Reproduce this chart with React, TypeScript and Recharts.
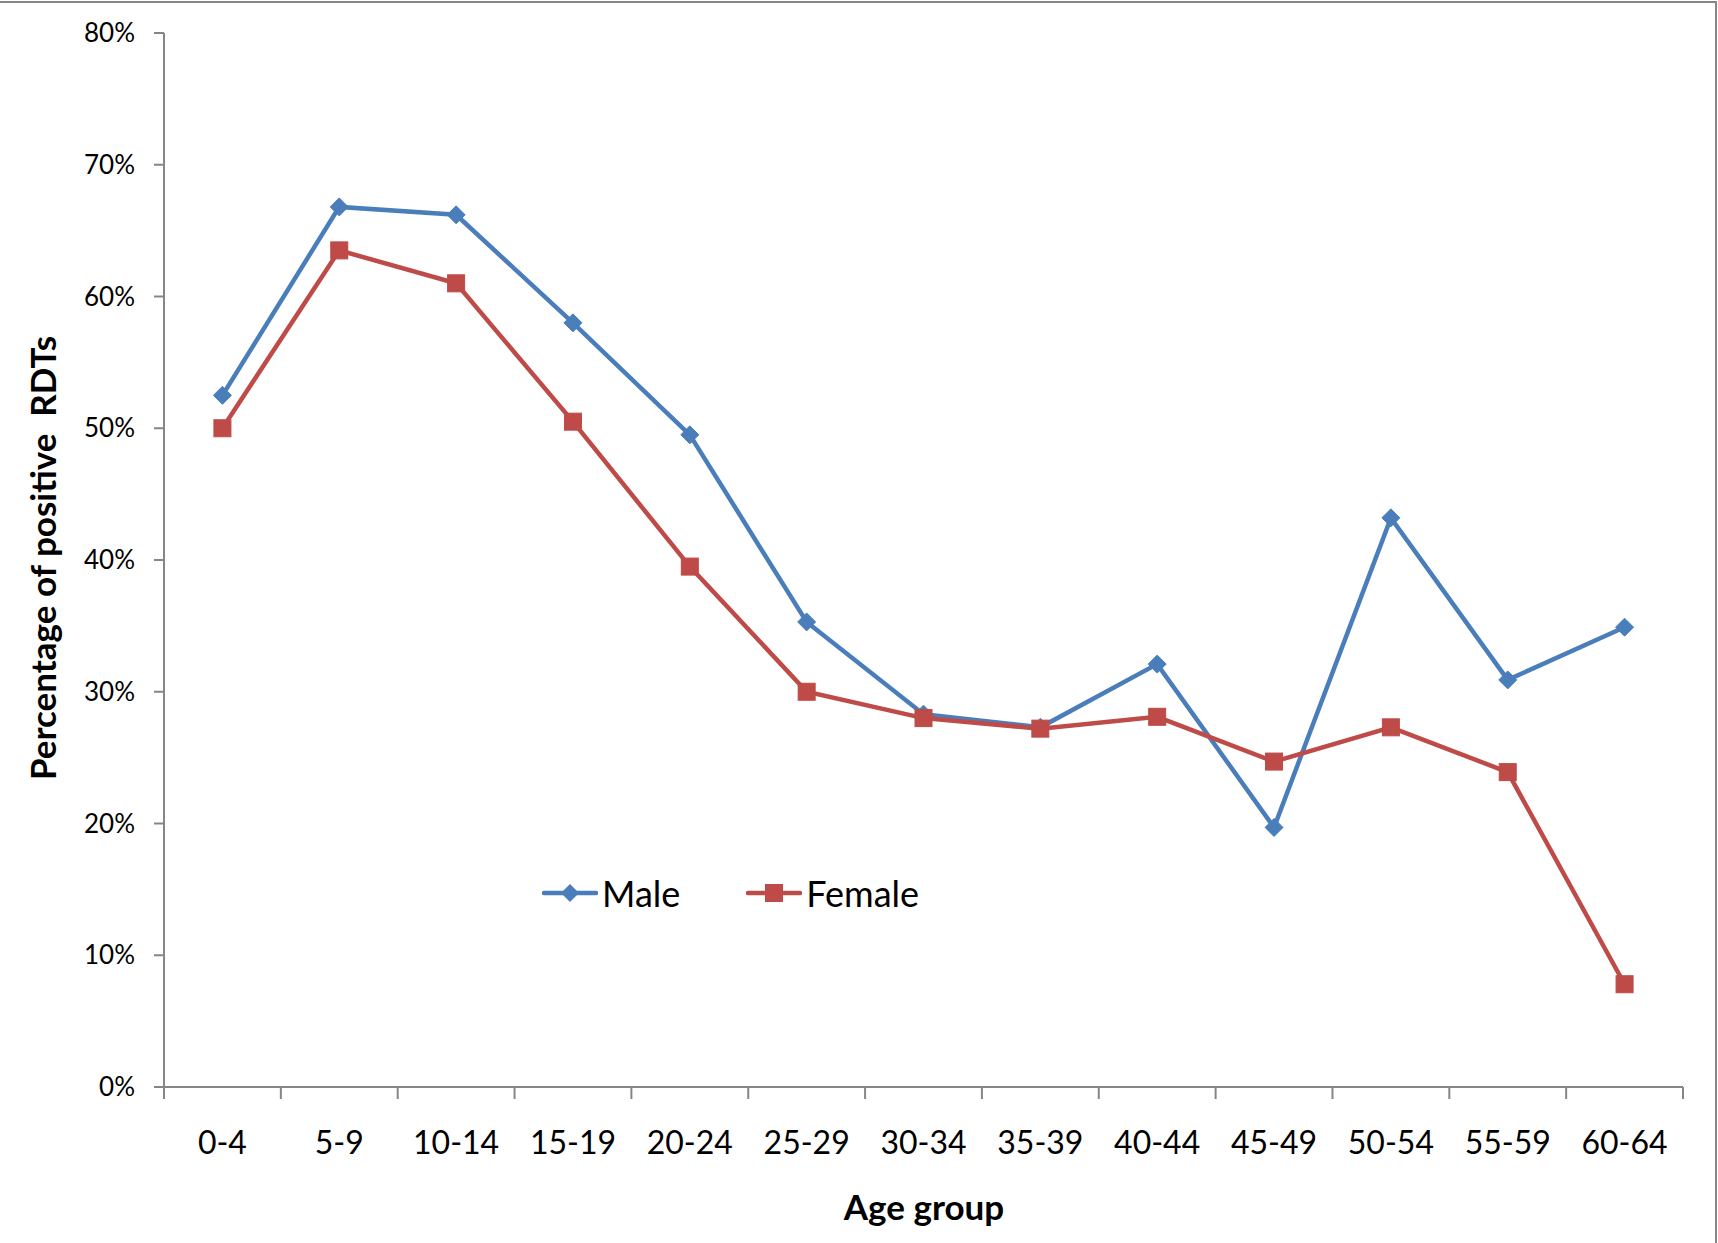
import React from "react";
import { CartesianGrid, Legend, Line, LineChart, XAxis, YAxis } from "recharts";

const AGE_GROUPS = ["0-4", "5-9", "10-14", "15-19", "20-24", "25-29", "30-34", "35-39", "40-44", "45-49", "50-54", "55-59", "60-64"];
const MALE = [52.5, 66.8, 66.2, 58.0, 49.5, 35.3, 28.3, 27.3, 32.1, 19.7, 43.2, 30.9, 34.9];
const FEMALE = [50.0, 63.5, 61.0, 50.5, 39.5, 30.0, 28.0, 27.2, 28.1, 24.7, 27.3, 23.9, 7.8];
const Y_TICKS = [0, 0.1, 0.2, 0.3, 0.4, 0.5, 0.6, 0.7, 0.8];

const data = AGE_GROUPS.map((g, i) => ({ group: g, Male: MALE[i] / 100, Female: FEMALE[i] / 100 }));

const W = 1718;
const H = 1243;
const PLOT_LEFT = 164;
const PLOT_RIGHT = 1683;
const BAND = (PLOT_RIGHT - PLOT_LEFT) / AGE_GROUPS.length;

const BLUE = "#4a7ebb";
const RED = "#be4b48";
const AXIS = "#868686";
const FONT = "Lato, sans-serif";

const Diamond = ({ cx, cy, size = 9 }: any) => {
  if (cx == null || cy == null) return null;
  return (
    <path
      d={`M${cx},${cy - size} L${cx + size},${cy} L${cx},${cy + size} L${cx - size},${cy} Z`}
      fill={BLUE}
      stroke={BLUE}
      strokeWidth={1}
    />
  );
};

const Square = ({ cx, cy, size = 8.5 }: any) => {
  if (cx == null || cy == null) return null;
  return <rect x={cx - size} y={cy - size} width={size * 2} height={size * 2} fill={RED} stroke={RED} strokeWidth={1} />;
};

const XTick = (props: any) => {
  const { x, y, payload, index } = props;
  const half = BAND / 2;
  return (
    <g>
      <line x1={x - half} y1={y} x2={x - half} y2={y + 12} stroke={AXIS} strokeWidth={2} />
      {index === AGE_GROUPS.length - 1 && (
        <line x1={x + half} y1={y} x2={x + half} y2={y + 12} stroke={AXIS} strokeWidth={2} />
      )}
      <text x={x} y={y + 67} textAnchor="middle" fontFamily={FONT} fontSize={32} fill="#000">
        {payload.value}
      </text>
    </g>
  );
};

const LegendContent = () => {
  const items = [
    { name: "Male", color: BLUE, marker: "diamond" },
    { name: "Female", color: RED, marker: "square" },
  ];
  return (
    <div style={{ display: "flex", alignItems: "center", fontFamily: FONT, fontSize: 36, color: "#000" }}>
      {items.map((it, i) => (
        <div key={it.name} style={{ display: "flex", alignItems: "center", marginRight: i === 0 ? 66 : 0 }}>
          <svg width={56} height={30} style={{ marginRight: 4 }}>
            <line x1={2} y1={15} x2={54} y2={15} stroke={it.color} strokeWidth={4.5} strokeLinecap="round" />
            {it.marker === "diamond" ? (
              <path d="M28,6 L37,15 L28,24 L19,15 Z" fill={it.color} />
            ) : (
              <rect x={19} y={6} width={18} height={18} fill={it.color} />
            )}
          </svg>
          <span>{it.name}</span>
        </div>
      ))}
    </div>
  );
};

export default function App() {
  return (
    <div style={{ position: "absolute", left: 0, top: 0, width: W, height: H, background: "#fff" }}>
      <div style={{ position: "absolute", left: 0, top: 1, width: W - 2, height: 2, background: AXIS }} />
      <div style={{ position: "absolute", left: W - 3, top: 1, width: 2, height: H, background: AXIS }} />
      <LineChart
        width={W}
        height={H}
        data={data}
        margin={{ top: 33, right: W - PLOT_RIGHT, bottom: 96, left: PLOT_LEFT - 80 }}
      >
        <CartesianGrid horizontal={false} vertical={false} />
        <XAxis
          dataKey="group"
          height={60}
          padding={{ left: BAND / 2, right: BAND / 2 }}
          tick={<XTick />}
          tickLine={false}
          tickSize={0}
          tickMargin={0}
          axisLine={{ stroke: AXIS, strokeWidth: 2 }}
          interval={0}
          label={{
            content: () => (
              <text x={924} y={1220} textAnchor="middle" fontFamily={FONT} fontSize={35} fontWeight={700} fill="#000">
                Age group
              </text>
            ),
          }}
        />
        <YAxis
          width={80}
          domain={[0, 0.8]}
          ticks={Y_TICKS}
          tickFormatter={(v: number) => `${Math.round(v * 100)}%`}
          tick={{ fill: "#000", fontSize: 26, fontFamily: FONT }}
          tickSize={10}
          tickMargin={19}
          tickLine={{ stroke: AXIS, strokeWidth: 2 }}
          axisLine={{ stroke: AXIS, strokeWidth: 2 }}
          label={{
            content: () => (
              <text
                x={56}
                y={558}
                transform="rotate(-90, 56, 558)"
                textAnchor="middle"
                fontFamily={FONT}
                fontSize={35}
                fontWeight={700}
                fill="#000"
                style={{ whiteSpace: "pre" }}
              >
                Percentage of positive  RDTs
              </text>
            ),
          }}
        />
        <Legend
          layout="horizontal"
          verticalAlign="middle"
          align="center"
          content={<LegendContent />}
          wrapperStyle={{ left: 542, top: 871, width: "auto" }}
        />
        <Line
          type="linear"
          dataKey="Male"
          stroke={BLUE}
          strokeWidth={4.5}
          dot={<Diamond />}
          activeDot={false}
          isAnimationActive={false}
        />
        <Line
          type="linear"
          dataKey="Female"
          stroke={RED}
          strokeWidth={4.5}
          dot={<Square />}
          activeDot={false}
          isAnimationActive={false}
        />
      </LineChart>
    </div>
  );
}
